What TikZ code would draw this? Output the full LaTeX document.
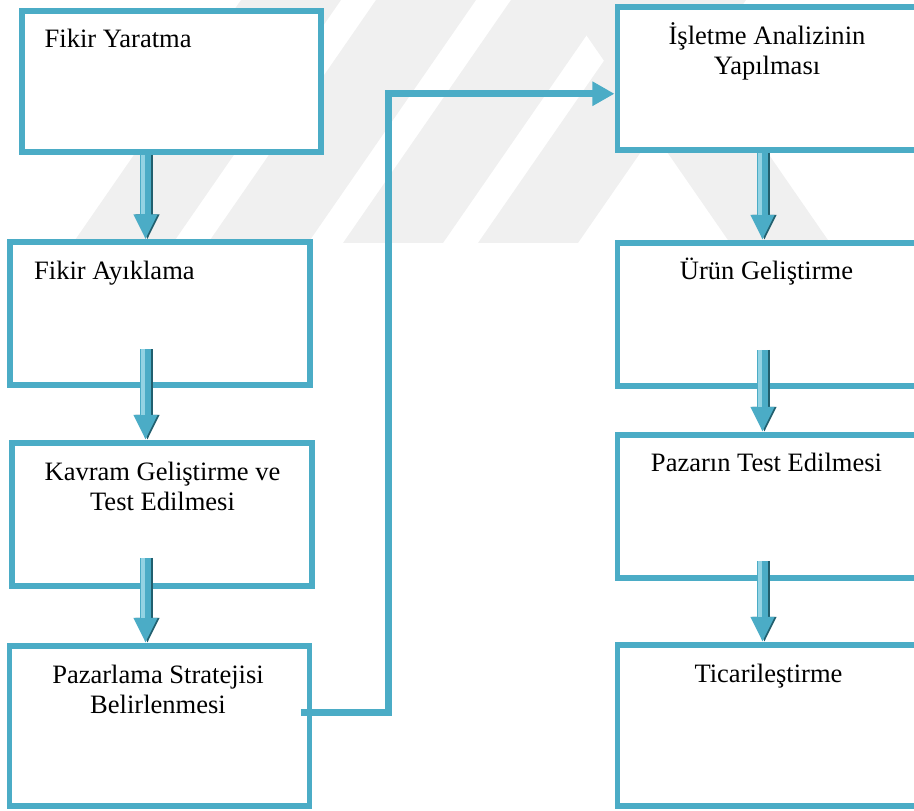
\documentclass[tikz,border=0pt]{standalone}
\usepackage{fontspec}
\setmainfont{Liberation Serif}
\usetikzlibrary{arrows.meta,calc}
\definecolor{accent}{HTML}{4BACC6}
\definecolor{accentdark}{HTML}{215F6E}
\definecolor{accentlight}{HTML}{93D3E3}
\definecolor{wmark}{HTML}{F0F0F0}

\begin{document}
\begin{tikzpicture}[
    stage/.style={draw=accent, line width=0.06cm, fill=white,
      minimum width=3cm, minimum height=1.43cm, inner sep=0pt},
    lbl/.style={font=\fontsize{7.55}{8.55}\selectfont, inner sep=0pt, align=center},
    flow/.style={line width=0.11cm, draw=accent,
      -{Triangle[width=0.22cm,length=0.25cm]}},
    flowshadow/.style={line width=0.11cm, draw=accentdark,
      -{Triangle[width=0.22cm,length=0.25cm]}, transform canvas={xshift=0.02cm}},
    flowlight/.style={line width=0.035cm, draw=accentlight, shorten >=0.25cm,
      transform canvas={xshift=-0.025cm}},
    link/.style={draw=accent, line width=0.07cm,
      -{Triangle[width=0.23cm,length=0.22cm]}}]
  \clip (0,0) rectangle (9.14,8.11);
  % watermark
  \foreach \xx in {0.73,2.08,3.43,4.78}{%
    \fill[wmark] (\xx,5.68) -- ++(1.0,0) -- ++(1.68,2.43) -- ++(-1.0,0) -- cycle;}
  \fill[wmark] (8.3,5.68) -- ++(-1.0,0) -- ++(-1.68,2.43) -- ++(1.0,0) -- cycle;
  % left column
  \node[stage, minimum width=2.99cm, minimum height=1.41cm] (b1) at (1.71,7.295) {};
  \node[stage] (b2) at (1.6025,4.97) {};
  \node[stage] (b3) at (1.6225,2.965) {};
  \node[stage, minimum height=1.6cm] (b4) at (1.595,0.85) {};
  % right column
  \node[stage, minimum height=1.425cm] (b5) at (7.675,7.3225) {};
  \node[stage] (b6) at (7.675,4.965) {};
  \node[stage] (b7) at (7.675,3.045) {};
  \node[stage, minimum height=1.61cm] (b8) at (7.675,0.855) {};
  % texts
  \node[lbl, anchor=base west] (t1) at (0.44,7.63) {Fikir Yaratma};
  \node[lbl, anchor=base west] (t2) at (0.335,5.31) {Fikir Ayıklama};
  \node[lbl, anchor=base] (t3) at (1.625,3.0) {Kavram Geliştirme ve\\Test Edilmesi};
  \node[lbl, anchor=base] (t4) at (1.58,0.97) {Pazarlama Stratejisi\\Belirlenmesi};
  \node[lbl, anchor=base] (t5) at (7.67,7.36) {İşletme Analizinin\\Yapılması};
  \node[lbl, anchor=base] (t6) at (7.665,5.31) {Ürün Geliştirme};
  \node[lbl, anchor=base] (t7) at (7.665,3.39) {Pazarın Test Edilmesi};
  \node[lbl, anchor=base] (t8) at (7.685,1.28) {Ticarileştirme};
  % block arrows
  \foreach \xx/\a/\up/\b in {1.455/b1/0/b2, 1.455/b2/0.39/b3, 1.455/b3/0.31/b4,
      7.625/b5/0/b6, 7.625/b6/0.39/b7, 7.625/b7/0.20/b8}{%
    \draw[flowshadow] ($(\xx,0 |- \a.south)+(0,\up)$) -- (\xx,0 |- \b.north);
    \draw[flow] ($(\xx,0 |- \a.south)+(0,\up)$) -- (\xx,0 |- \b.north);
    \draw[flowlight] ($(\xx,0 |- \a.south)+(0,\up)$) -- (\xx,0 |- \b.north);}
  % elbow to second column
  \draw[link] ($(b4.east)+(-0.115,0.13)$) -- ++(0.88,0) |- ($(b5.west)+(0,-0.15)$);
\end{tikzpicture}
\end{document}
